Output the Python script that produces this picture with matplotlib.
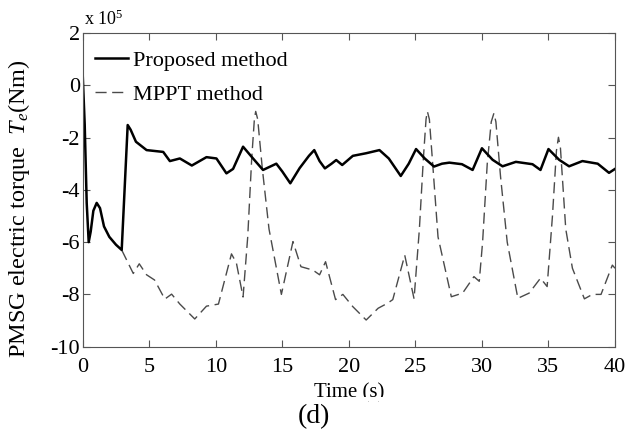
import matplotlib
matplotlib.use("Agg")
import matplotlib.pyplot as plt
from matplotlib.patches import Rectangle

plt.rcParams['font.family'] = ['Liberation Serif', 'DejaVu Serif']
plt.rcParams['mathtext.fontset'] = 'custom'
plt.rcParams['mathtext.rm'] = 'Liberation Serif'
plt.rcParams['mathtext.it'] = 'Liberation Serif:italic'
plt.rcParams['axes.unicode_minus'] = False

# Proposed method (x 1e5 Nm)
t_prop = [0, 0.15, 0.3, 0.45, 0.6, 0.8, 1.05, 1.3, 1.6, 2.0, 2.5, 2.93, 3.38, 3.6,
          4.0, 4.8, 6.05, 6.55, 7.3, 8.2, 9.3, 10.05, 10.8, 11.3, 12.05, 12.8, 13.55,
          14.55, 15.0, 15.6, 16.3, 17.0, 17.4, 17.8, 18.2, 18.7, 19.05, 19.5, 20.3,
          21.3, 22.3, 23.0, 23.9, 24.5, 25.05, 25.7, 26.4, 27.0, 27.55, 28.5, 29.3,
          30.0, 30.8, 31.55, 32.55, 33.8, 34.4, 35.0, 35.8, 36.55, 37.55, 38.7, 39.55, 40.0]
y_prop = [0.4, -1.5, -4.5, -6.0, -5.6, -4.8, -4.5, -4.7, -5.4, -5.8, -6.1, -6.3, -1.52, -1.7,
          -2.16, -2.48, -2.55, -2.9, -2.8, -3.07, -2.75, -2.8, -3.37, -3.2, -2.35, -2.8, -3.24,
          -3.0, -3.3, -3.75, -3.17, -2.7, -2.48, -2.9, -3.18, -3.0, -2.86, -3.05, -2.7,
          -2.6, -2.48, -2.8, -3.47, -3.0, -2.44, -2.8, -3.11, -3.0, -2.96, -3.02, -3.24,
          -2.41, -2.85, -3.1, -2.93, -3.02, -3.24, -2.44, -2.85, -3.1, -2.9, -3.0, -3.35, -3.2]

# MPPT method (x 1e5 Nm)
t_mppt = [2.93, 3.8, 4.25, 4.8, 5.4, 6.17, 6.68, 7.3, 8.42, 9.3, 10.2, 11.18, 11.55, 12.05,
          12.4, 12.7, 12.9, 13.0, 13.15, 13.5, 14.0, 14.93, 15.8, 16.4, 17.3, 17.8, 18.25,
          19.0, 19.55, 20.3, 21.3, 22.2, 22.9, 23.3, 24.2, 24.9, 25.3, 25.6, 25.8, 25.9,
          26.05, 26.3, 26.7, 27.7, 28.55, 29.4, 29.8, 30.05, 30.4, 30.7, 30.9, 31.05, 31.4,
          31.9, 32.7, 33.55, 34.4, 34.9, 35.3, 35.6, 35.75, 35.9, 36.3, 36.8, 37.7, 38.3,
          38.95, 39.8, 40.0]
y_mppt = [-6.3, -7.2, -6.83, -7.25, -7.45, -8.18, -7.99, -8.37, -8.94, -8.45, -8.37, -6.45, -6.8, -8.1,
          -5.8, -2.8, -1.3, -1.0, -1.3, -3.2, -5.5, -8.0, -5.98, -6.94, -7.07, -7.25, -6.75,
          -8.2, -8.0, -8.47, -8.98, -8.53, -8.34, -8.2, -6.5, -8.17, -5.5, -2.8, -1.3, -1.0,
          -1.3, -3.0, -5.8, -8.09, -7.95, -7.32, -7.5, -6.0, -3.0, -1.4, -1.07, -1.4, -3.5,
          -6.0, -8.15, -7.95, -7.38, -7.7, -5.0, -2.5, -1.99, -2.4, -5.5, -7.0, -8.17, -8.0,
          -8.0, -6.88, -7.0]

x_ticks = [0, 5, 10, 15, 20, 25, 30, 35, 40]
y_ticks = [2, 0, -2, -4, -6, -8, -10]

fig = plt.figure(figsize=(6.28, 4.34), dpi=100)
ax = fig.add_axes([0.1317, 0.2012, 0.9793 - 0.1317, 0.924 - 0.2012])

ax.plot(t_mppt, y_mppt, color='#4a4a4a', lw=1.0, ls=(0, (8, 4)), label='MPPT method')
ax.plot(t_prop, y_prop, color='black', lw=1.8, label='Proposed method')

ax.set_xlim(0, 40)
ax.set_ylim(-10, 2)
ax.set_xticks(x_ticks)
ax.set_yticks(y_ticks)
ax.tick_params(direction='in', top=True, right=True, length=5, labelsize=16, width=0.8,
               color='#555555', pad=2)
ax.tick_params(axis='x', pad=8)
for s in ax.spines.values():
    s.set_color('#555555')
    s.set_linewidth(0.8)

h, l = ax.get_legend_handles_labels()
ax.legend([h[1], h[0]], [l[1], l[0]], loc='upper left', frameon=False, fontsize=16,
          handlelength=1.5, handletextpad=0.22, borderaxespad=0, borderpad=0,
          labelspacing=0.6, bbox_to_anchor=(0.023, 0.945))

ax.set_xlabel('Time (s)', fontsize=15)
ax.xaxis.set_label_coords(0.5, -0.146)
ax.xaxis.label.set_va('center')
ax.set_ylabel(r'PMSG electric torque  $T_e$(Nm)', fontsize=17.5, va='center')
ax.yaxis.set_label_coords(-0.12, 0.44)

fig.text(0.1335, 0.955, r'x 10$^{5}$', fontsize=13, ha='left', va='center')
# white band that clips the bottom of the x label, as in the reference
fig.patches.append(Rectangle((0, 1 - 401 / 434), 1, 4 / 434, transform=fig.transFigure,
                             facecolor='white', edgecolor='none', zorder=10))
fig.text(314 / 628, 1 - 417 / 434, '(d)', fontsize=20, ha='center', va='center')

fig.savefig('out.png', dpi=100)
